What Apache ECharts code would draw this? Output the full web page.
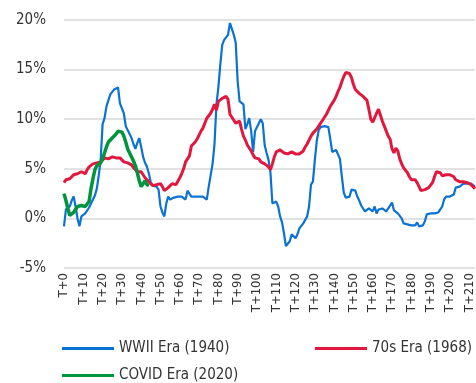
<!DOCTYPE html>
<html><head><meta charset="utf-8">
<script src="https://cdn.jsdelivr.net/npm/echarts@6/dist/echarts.min.js"></script>
<style>html,body{margin:0;padding:0;background:#fff}#c{width:476px;height:383px}</style>
</head><body><div id="c"></div>
<script>
const categories = [];
for (let i = 0; i <= 213; i++) categories.push('T+' + i);

const wwii = [-0.8,0.9,1.0,1.2,1.8,2.2,1.2,0.0,-0.8,0.2,
0.4,0.5,0.7,1.1,1.5,1.9,2.3,3.0,4.3,5.9,
9.5,10.1,11.3,11.3,12.5,12.7,13.0,12.8,13.2,11.6,
11.6,10.6,9.3,9.2,8.5,8.1,7.5,7.0,7.6,8.1,
7.2,6.2,5.6,5.2,4.5,3.6,3.3,3.2,3.2,2.9,
1.2,0.6,0.2,1.5,2.2,1.9,2.0,2.1,2.1,2.2,
2.1,2.2,2.2,1.9,2.8,2.6,2.2,2.2,2.2,2.2,
2.2,2.2,2.2,2.0,1.9,3.2,3.3,5.5,7.5,11.5,
13.2,15.5,17.5,18.0,18.1,18.5,19.7,19.1,18.5,17.7,
13.8,11.8,12.0,11.5,9.0,9.5,10.1,8.8,6.7,8.8,
9.0,9.6,10.0,9.6,7.4,6.6,5.9,4.6,1.5,1.5,
1.7,1.2,0.2,-0.4,-1.5,-2.8,-2.8,-2.3,-1.6,-1.8,
-2.0,-1.6,-1.0,-1.2,-0.5,-0.6,0.2,1.2,3.4,3.7,
5.9,7.8,8.9,9.2,9.3,9.3,9.3,9.2,8.0,6.7,
6.7,6.9,6.7,6.0,4.2,2.6,2.1,2.0,2.2,2.9,
3.1,2.8,2.2,1.8,1.3,1.0,0.7,0.8,1.0,0.8,
0.7,1.2,0.5,0.9,1.0,1.0,0.8,0.7,1.0,1.2,
1.6,0.8,0.6,0.5,0.3,0.0,-0.5,-0.5,-0.6,-0.4,
-0.7,-0.8,-0.7,-0.4,-0.8,-0.7,-0.7,-0.3,0.4,0.5,
0.5,0.5,0.5,0.5,0.6,0.9,1.2,1.9,2.2,2.2,
2.2,2.3,2.4,3.1,3.1,3.2,3.4,3.5,3.6,3.5,
3.4,3.5,3.5,3.2];

const seventies = [3.6,3.9,4.0,4.0,4.1,4.4,4.4,4.5,4.6,4.7,
4.6,4.5,4.9,5.2,5.4,5.5,5.6,5.6,5.6,5.7,
5.7,6.1,5.9,6.0,6.1,6.2,6.0,6.1,6.1,6.1,
6.0,5.7,5.7,5.6,5.6,5.4,5.1,4.9,4.7,4.6,
4.7,4.4,4.1,3.9,3.7,3.6,3.3,3.4,3.4,3.5,
3.5,3.2,2.8,3.0,3.1,3.2,3.5,3.7,3.4,3.6,
4.1,4.5,5.0,5.7,5.7,6.3,7.3,7.5,7.7,8.0,
8.4,8.8,9.1,9.6,10.1,10.3,10.6,11.0,11.5,10.9,
11.8,12.0,12.1,12.2,12.3,12.0,10.5,10.2,9.9,9.6,
9.5,9.8,9.0,8.3,7.9,7.4,7.2,6.8,6.4,6.1,
6.1,6.0,5.7,5.6,5.5,5.3,5.2,4.9,5.5,6.2,
6.7,6.9,6.9,6.7,6.6,6.6,6.5,6.3,6.7,6.6,
6.5,6.4,6.5,6.6,6.8,7.2,7.5,7.7,8.3,8.6,
8.8,9.0,9.2,9.6,9.9,10.2,10.5,10.7,11.3,11.6,
11.9,12.3,12.8,13.2,13.8,14.3,14.7,14.8,14.6,14.2,
13.5,13.0,12.8,12.6,12.5,12.3,12.1,11.9,11.0,10.0,
9.7,9.6,10.6,11.0,10.8,9.8,9.3,8.8,8.3,8.0,
7.0,6.6,7.1,6.8,6.0,5.5,5.1,4.9,4.6,4.2,
3.9,3.7,3.9,3.6,3.2,2.8,2.6,2.9,3.0,3.1,
3.2,3.6,4.2,4.7,4.9,4.6,4.3,4.3,4.4,4.4,
4.4,4.4,4.2,3.9,3.7,3.7,3.7,3.7,3.6,3.6,
3.5,3.4,3.2,3.0];

const covid = [2.5,1.8,1.0,0.3,0.2,0.6,0.9,1.2,1.4,1.3,
1.2,1.2,1.3,1.7,3.0,4.0,4.9,5.3,5.4,5.6,
6.0,6.6,7.2,7.7,7.8,8.1,8.3,8.5,8.8,9.0,
8.7,8.3,7.7,7.0,6.6,6.2,5.8,5.3,4.6,3.8,
3.2,3.4,3.8,3.4,3.3];

const yTicks = {min: -5, max: 20, interval: 5};
const names = ['WWII Era (1940)', '70s Era (1968)', 'COVID Era (2020)'];
const colors = ['#0a72d1', '#e2173d', '#00943f'];

const FONT = '"Liberation Sans Narrow","DejaVu Sans Condensed","Liberation Sans",sans-serif';
const chart = echarts.init(document.getElementById('c'), null, {renderer: 'canvas'});
const legendBase = {icon: 'rect', itemWidth: 52, itemHeight: 3, itemGap: 0,
  textStyle: {fontFamily: FONT, fontSize: 15, color: '#333'}};
chart.setOption({
  animation: false,
  backgroundColor: '#fff',
  grid: {left: 64, right: 1, top: 20, bottom: 115, containLabel: false},
  xAxis: {
    type: 'category', data: categories, boundaryGap: false,
    axisLine: {show: false}, axisTick: {show: false},
    axisLabel: {interval: 9, rotate: 90, fontFamily: FONT, fontSize: 13, color: '#333', margin: 5},
    splitLine: {show: false}
  },
  yAxis: {
    type: 'value', min: yTicks.min, max: yTicks.max, interval: yTicks.interval,
    axisLine: {show: false}, axisTick: {show: false},
    axisLabel: {formatter: '{value}%', fontFamily: FONT, fontSize: 15, color: '#333', margin: 18},
    splitLine: {lineStyle: {color: '#d9d9d9', width: 1.5}}
  },
  legend: [
    Object.assign({data: [names[0]], left: 57, top: 336}, legendBase),
    Object.assign({data: [names[1]], left: 310, top: 336}, legendBase),
    Object.assign({data: [names[2]], left: 57, top: 363}, legendBase)
  ],
  series: [
    {name: names[0], type: 'line', data: wwii, showSymbol: false, color: colors[0],
      lineStyle: {width: 2.2, color: colors[0]}},
    {name: names[1], type: 'line', data: seventies, showSymbol: false, color: colors[1],
      lineStyle: {width: 3, color: colors[1]}},
    {name: names[2], type: 'line', data: covid, showSymbol: false, color: colors[2],
      lineStyle: {width: 3.5, color: colors[2]}}
  ]
});
</script></body></html>
